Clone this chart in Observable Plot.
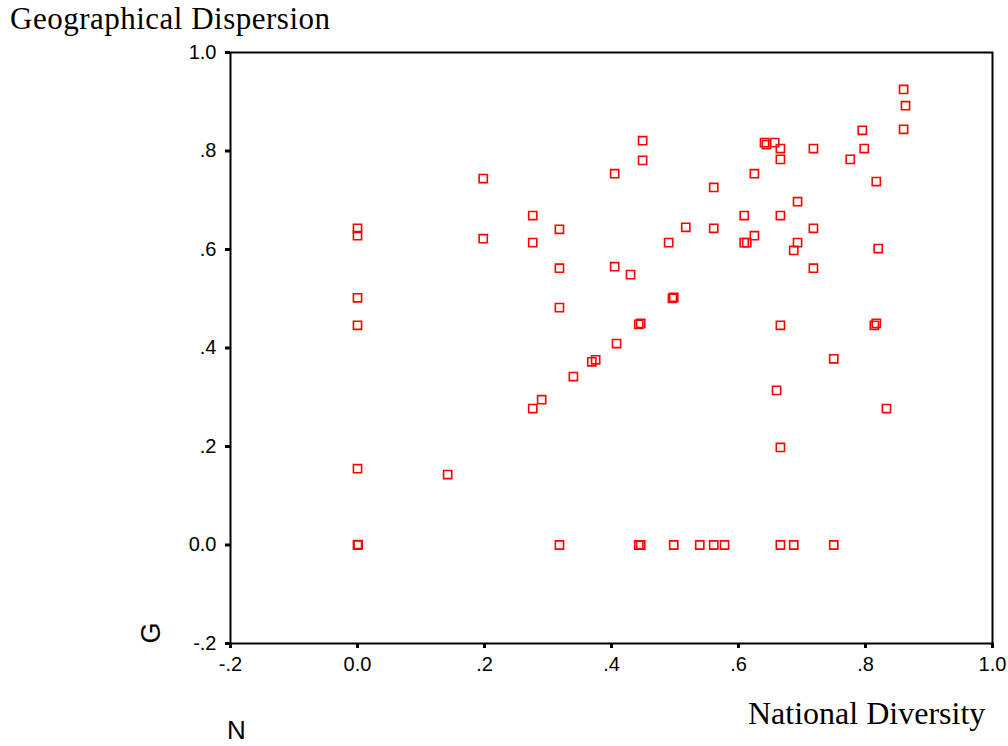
<!DOCTYPE html>
<html>
<head>
<meta charset="utf-8">
<script src="https://cdn.jsdelivr.net/npm/d3@7"></script>
<script src="https://cdn.jsdelivr.net/npm/@observablehq/plot@0.6"></script>
<style>
  html, body { margin: 0; padding: 0; background: #fff; }
  #wrap { position: relative; width: 1008px; height: 746px; overflow: hidden; }
  #wrap svg { position: absolute; left: 0; top: 0; }
  #wrap svg text { font-family: "Liberation Sans", Arial, sans-serif !important; font-size: 20px !important; fill: #000; }
  .t { position: absolute; white-space: nowrap; color: #000; line-height: 1; }
  .serif { font-family: "Liberation Serif", "Times New Roman", serif; }
  .sans { font-family: "Liberation Sans", Arial, sans-serif; }
</style>
</head>
<body>
<div id="wrap">
  <div class="t serif" style="left:10px; top:3px; font-size:31px; letter-spacing:0.5px;">Geographical Dispersion</div>
  <div class="t serif" style="left:748px; top:697px; font-size:32px;">National Diversity</div>
  <div class="t sans" style="left:151px; top:633px; font-size:27px; transform:translate(-50%,-50%) rotate(-90deg);">G</div>
  <div class="t sans" style="left:227px; top:717px; font-size:26px;">N</div>
</div>
<script>
const nationalDiversity = [
  0, 0.001, 0, 0, 0, 0, 0,
  0.142, 0.198, 0.198,
  0.276, 0.276, 0.276, 0.290,
  0.318, 0.318, 0.318, 0.318,
  0.340, 0.369, 0.375,
  0.405, 0.405, 0.408, 0.430,
  0.443, 0.446, 0.443, 0.446, 0.449, 0.449,
  0.490, 0.496, 0.498, 0.498, 0.517, 0.539,
  0.561, 0.561, 0.561, 0.578,
  0.609, 0.609, 0.613, 0.625, 0.625,
  0.641, 0.644, 0.657, 0.660,
  0.666, 0.666, 0.666, 0.666, 0.666, 0.666,
  0.687, 0.687, 0.693, 0.693,
  0.718, 0.718, 0.718,
  0.750, 0.750, 0.776, 0.795, 0.798,
  0.814, 0.817, 0.817, 0.820, 0.833,
  0.860, 0.863, 0.860
];
const geographicalDispersion = [
  0, 0.001, 0.155, 0.446, 0.502, 0.628, 0.643,
  0.143, 0.744, 0.622,
  0.669, 0.614, 0.277, 0.295,
  0.641, 0.562, 0.482, 0,
  0.342, 0.372, 0.376,
  0.754, 0.565, 0.409, 0.549,
  0.448, 0.450, 0, 0, 0.821, 0.781,
  0.614, 0.501, 0.503, 0, 0.645, 0,
  0.726, 0.643, 0, 0,
  0.669, 0.614, 0.614, 0.754, 0.628,
  0.817, 0.813, 0.817, 0.314,
  0.805, 0.783, 0.669, 0.446, 0.198, 0,
  0.598, 0, 0.697, 0.614,
  0.805, 0.643, 0.562,
  0.378, 0, 0.783, 0.842, 0.805,
  0.446, 0.450, 0.738, 0.602, 0.277,
  0.925, 0.892, 0.844
];
const tickValues = [-0.2, 0, 0.2, 0.4, 0.6, 0.8, 1.0];
const tickLabels = ["-.2", "0.0", ".2", ".4", ".6", ".8", "1.0"];

const points = nationalDiversity.map((x, i) => ({x, y: geographicalDispersion[i]}));
const fmt = v => tickLabels[tickValues.findIndex(t => Math.abs(t - v) < 1e-9)];

const chart = Plot.plot({
  width: 1008,
  height: 746,
  marginLeft: 230,
  marginRight: 16,
  marginTop: 52,
  marginBottom: 103,
  style: {fontFamily: "'Liberation Sans', Arial, sans-serif", fontSize: "20px", color: "#000", background: "transparent"},
  x: {domain: [-0.2, 1.0], label: null},
  y: {domain: [-0.2, 1.0], label: null},
  marks: [
    Plot.frame({stroke: "#000", strokeWidth: 2}),
    Plot.axisX({ticks: tickValues, tickFormat: fmt, tickSize: 5, tickPadding: 8, strokeWidth: 3, fontSize: 20, label: null}),
    Plot.axisY({ticks: tickValues, tickFormat: fmt, tickSize: 5, tickPadding: 9, strokeWidth: 3, fontSize: 20, label: null}),
    Plot.dot(points, {x: "x", y: "y", symbol: "square", r: 4.6, stroke: "#ff0000", strokeWidth: 1.6, fill: "none"})
  ]
});
document.getElementById("wrap").prepend(chart);
</script>
</body>
</html>
